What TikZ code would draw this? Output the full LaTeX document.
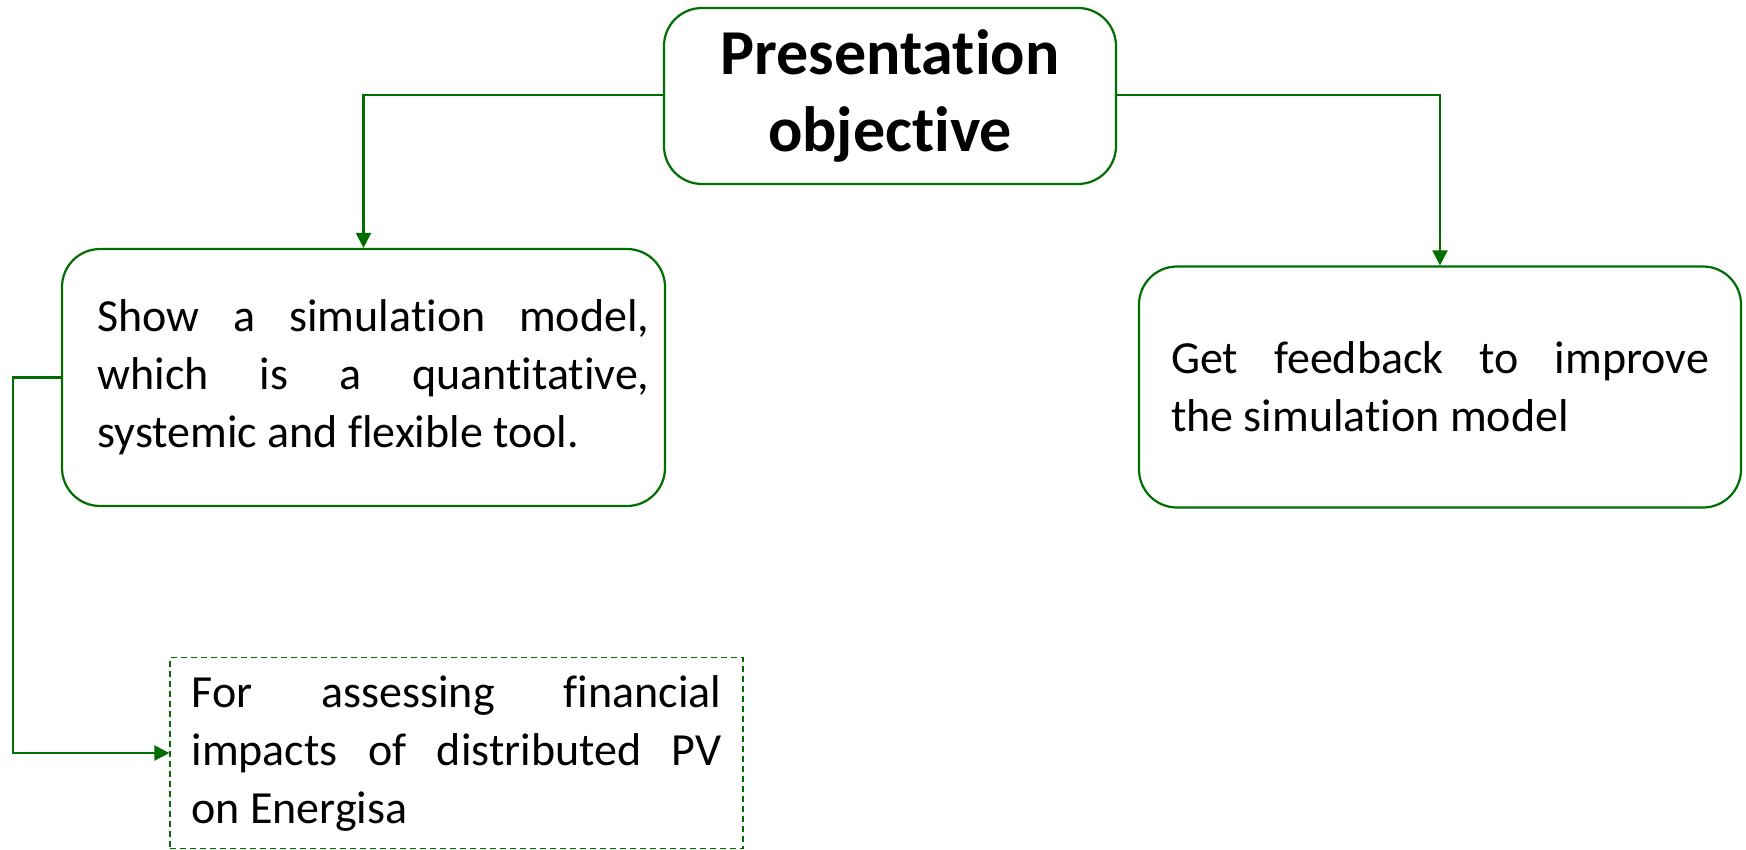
\documentclass[tikz,border=0pt]{standalone}
\usepackage{fontspec}
\setmainfont{Carlito}[RawFeature={-liga;-clig;-calt;-dlig}]
\usetikzlibrary{arrows.meta}
\definecolor{objgreen}{RGB}{0,110,0}
\begin{document}
\begin{tikzpicture}[x=0.5pt, y=-0.5pt,
  box/.style={draw=objgreen, line width=1.1pt, rounded corners=19pt, fill=white},
  dbox/.style={draw=objgreen, line width=0.6pt, dash pattern=on 3pt off 2pt},
  link/.style={draw=objgreen, line width=1.1pt, -{Triangle[length=7.5pt,width=7.5pt]}},
  body/.style={font=\fontsize{23}{29}\selectfont, align=justify}]
\useasboundingbox (0,0) rectangle (1746,850);
\node [box, minimum width=226pt, minimum height=88pt,
  font=\fontsize{32}{38.5}\selectfont\bfseries, align=center] (obj) at (890,96)
  {Presentation\\objective};
\node [box, font=\fontsize{23}{29}\selectfont, minimum width=301.5pt, minimum height=128.5pt] (show) at (363.5,377.5)
  {\hspace*{10pt}\parbox{276pt}{Show a simulation model,\linebreak which is a quantitative,\linebreak systemic and flexible tool.}};
\node [box, body, minimum width=301pt, minimum height=120.5pt, text width=269pt] (feed) at (1440,387)
  {Get feedback to improve\linebreak the simulation model};
\node [dbox, body, minimum width=286.5pt, minimum height=95.5pt, text width=265pt] (assess) at (456.5,753)
  {For assessing financial\linebreak impacts of distributed PV\linebreak on Energisa};
\coordinate (bend) at (13,0);
% connectors
\draw [link] (obj.west |- 0,95) -| (show.north);
\draw [link] (obj.east |- 0,95) -| (feed.north);
\draw [link] (show.west) -- (show.west -| bend) |- (assess.west);
\end{tikzpicture}
\end{document}
